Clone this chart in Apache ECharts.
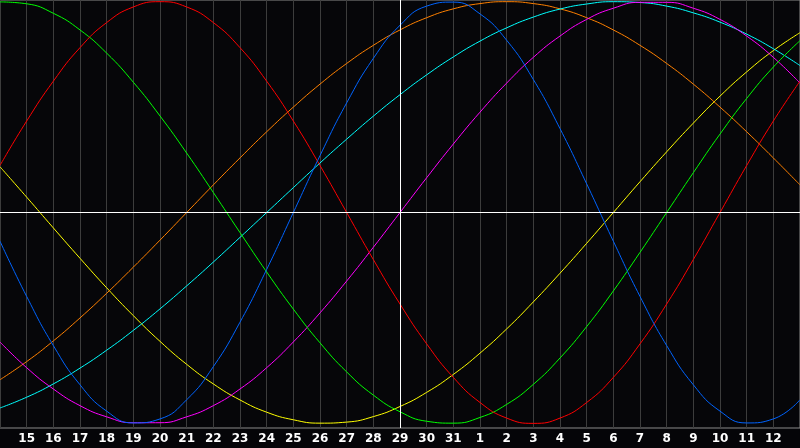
<!DOCTYPE html>
<html>
<head>
<meta charset="utf-8">
<script src="https://cdn.jsdelivr.net/npm/echarts@6/dist/echarts.min.js"></script>
<style>
html,body{margin:0;padding:0;background:#050508;}
#c{width:800px;height:448px;}
</style>
</head>
<body>
<div id="c"></div>
<script>
var days = ['14','15','16','17','18','19','20','21','22','23','24','25','26','27','28','29','30','31','1','2','3','4','5','6','7','8','9','10','11','12','13'];
var todayLabel = '29';

var red = [22.3,43.4,62.3,78.2,90.1,97.5,100,97.5,90.1,78.2,62.3,43.4,22.3,0,-22.3,-43.4,-62.3,-78.2,-90.1,-97.5,-100,-97.5,-90.1,-78.2,-62.3,-43.4,-22.3,0,22.3,43.4,62.3];
var green = [99.9,99.0,94.5,86.6,75.6,61.8,45.8,28.2,9.5,-9.5,-28.2,-45.8,-61.8,-75.6,-86.6,-94.5,-99.0,-99.9,-97.2,-91.0,-81.5,-69.0,-54.1,-37.2,-18.9,0,18.9,37.2,54.1,69.0,81.5];
var blue = [-13.6,-39.8,-63.1,-81.7,-94.2,-99.8,-97.9,-88.8,-73.1,-52.0,-27.0,0,27.0,52.0,73.1,88.8,97.9,99.8,94.2,81.7,63.1,39.8,13.6,-13.6,-39.8,-63.1,-81.7,-94.2,-99.8,-97.9,-88.8];
var orange = [-79.3,-70.7,-60.9,-50,-38.3,-25.9,-13.1,0,13.1,25.9,38.3,50,60.9,70.7,79.3,86.6,92.4,96.6,99.1,100,99.1,96.6,92.4,86.6,79.3,70.7,60.9,50,38.3,25.9,13.1];
var cyan = [-92.7,-87.6,-81.3,-73.8,-65.3,-55.9,-45.7,-34.8,-23.5,-11.8,0,11.8,23.5,34.8,45.7,55.9,65.3,73.8,81.3,87.6,92.7,96.5,98.9,100,99.6,97.9,94.7,90.3,84.6,77.7,69.7];
var magenta = [-61.4,-73.6,-83.7,-91.6,-96.9,-99.7,-99.7,-96.9,-91.6,-83.7,-73.6,-61.4,-47.6,-32.5,-16.5,0,16.5,32.5,47.6,61.4,73.6,83.7,91.6,96.9,99.7,99.7,96.9,91.6,83.7,73.6,61.4];
var yellow = [21.7,7.3,-7.3,-21.7,-35.7,-48.9,-61.1,-72.0,-81.3,-88.9,-94.7,-98.3,-99.9,-99.4,-96.8,-92.0,-85.3,-76.8,-66.7,-55.2,-42.4,-28.8,-14.6,0,14.6,28.8,42.4,55.2,66.7,76.8,85.3];

var seriesDefs = [
  {name:'yellow', data:yellow, color:'#ffff00'},
  {name:'orange', data:orange, color:'#ff8000'},
  {name:'cyan', data:cyan, color:'#00ffff'},
  {name:'magenta', data:magenta, color:'#ff00ff'},
  {name:'green', data:green, color:'#00ff00'},
  {name:'red', data:red, color:'#ff0000'},
  {name:'blue', data:blue, color:'#0064ff'}
];

var chart = echarts.init(document.getElementById('c'), null, {renderer:'canvas'});
var series = seriesDefs.map(function(s){
  return {
    name:s.name, type:'line', data:s.data, smooth:0.5, showSymbol:false, symbol:'none',
    lineStyle:{color:s.color, width:1}, itemStyle:{color:s.color}, silent:true, z:3
  };
});
series.push({
  type:'line', data:[], silent:true, z:2,
  markLine:{
    silent:true, symbol:'none', label:{show:false}, animation:false,
    lineStyle:{color:'#ffffff', width:1, type:'solid'},
    data:[{yAxis:0},{xAxis:todayLabel}]
  }
});

chart.setOption({
  animation:false,
  backgroundColor:'#050508',
  grid:{left:0, right:0, top:0, bottom:20, containLabel:false, outerBoundsMode:'none',
    show:true, borderColor:'#8a8a8a', borderWidth:1, backgroundColor:'#060609'},
  xAxis:{
    type:'category', data:days, boundaryGap:false,
    axisLine:{show:true, lineStyle:{color:'#8a8a8a', width:1}},
    axisTick:{show:false},
    axisLabel:{show:true, color:'#ffffff',
      interval:function(idx){ return idx > 0 && idx < days.length - 1; },
      fontFamily:'DejaVu Sans', fontWeight:'bold', fontSize:12, margin:5},
    splitLine:{show:true, interval:0, lineStyle:{color:'#3c3c3c', width:1}}
  },
  yAxis:{
    type:'value', min:-102.2, max:100.8, show:true,
    axisLine:{show:false}, axisTick:{show:false}, axisLabel:{show:false}, splitLine:{show:false}
  },
  series:series
});
</script>
</body>
</html>
